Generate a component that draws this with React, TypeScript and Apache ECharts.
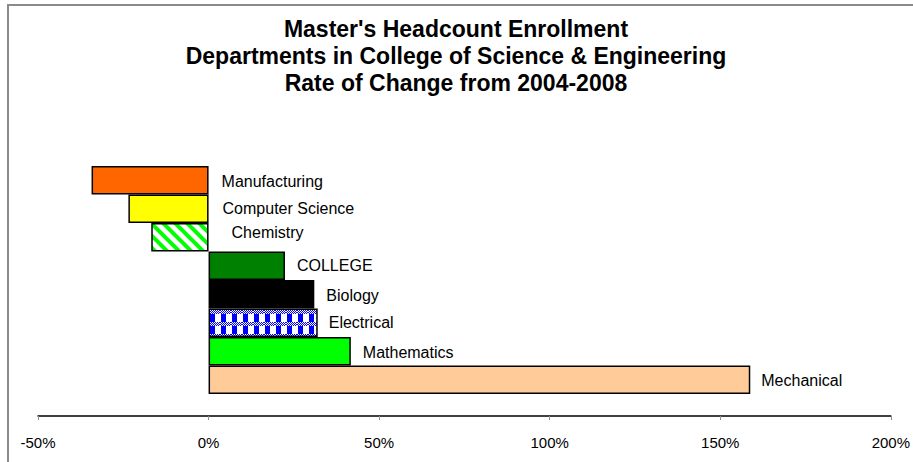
import React, { useEffect, useRef } from 'react';
import * as echarts from 'echarts';

const departments = [
  'Manufacturing',
  'Computer Science',
  'Chemistry',
  'COLLEGE',
  'Biology',
  'Electrical',
  'Mathematics',
  'Mechanical',
];
const rateOfChange = [-34.3, -23.5, -16.8, 22.4, 31.0, 32.0, 41.7, 158.8];
const axisMin = -50;
const axisMax = 200;
const axisStep = 50;
const titleLines = [
  "Master's Headcount Enrollment",
  'Departments in College of Science & Engineering',
  'Rate of Change from 2004-2008',
];

const FONT = '"Liberation Sans", Arial, Helvetica, sans-serif';

function stripePattern() {
  const s = 12;
  const c = document.createElement('canvas');
  c.width = s;
  c.height = s;
  const g = c.getContext('2d')!;
  g.fillStyle = '#ffffff';
  g.fillRect(0, 0, s, s);
  g.strokeStyle = '#00ff00';
  g.lineWidth = 4;
  for (const k of [-1, 0, 1]) {
    g.beginPath();
    g.moveTo(-s, -s + k * s);
    g.lineTo(2 * s, 2 * s + k * s);
    g.stroke();
  }
  return { image: c, repeat: 'repeat', imageWidth: s, imageHeight: s };
}

function checkerPattern() {
  const w = 11;
  const h = 12;
  const c = document.createElement('canvas');
  c.width = w;
  c.height = h;
  const g = c.getContext('2d')!;
  g.fillStyle = '#ffffff';
  g.fillRect(0, 0, w, h);
  g.fillStyle = '#0000ff';
  const dottedRows = [10, 11, 0, 1];
  for (let y = 0; y < h; y++) {
    for (let x = 0; x < w; x++) {
      if (dottedRows.includes(y)) {
        if ((x + y) % 2 === 0) g.fillRect(x, y, 1, 1);
      } else if (x >= 1 && x <= 5) {
        g.fillRect(x, y, 1, 1);
      }
    }
  }
  return { image: c, repeat: 'repeat', imageWidth: w, imageHeight: h };
}

export default function App() {
  const ref = useRef<HTMLDivElement>(null);

  useEffect(() => {
    if (!ref.current) return;
    const chart = echarts.init(ref.current, null, { renderer: 'svg' });

    const fills: any[] = [
      '#ff6600',
      '#ffff00',
      stripePattern(),
      '#008000',
      '#000000',
      checkerPattern(),
      '#00ff00',
      '#ffcc99',
    ];
    // label placement tweaks (style only)
    const labelTweaks: any[] = [
      { distance: 13, offset: [0, 1] },
      { distance: 14, offset: [0, 0] },
      { distance: 23, offset: [0, -5] },
      { distance: 12, offset: [0, 0] },
      { distance: 12, offset: [0, 1] },
      { distance: 11, offset: [0, 0] },
      { distance: 12, offset: [0, 1] },
      { distance: 11, offset: [0, 1] },
    ];

    chart.setOption({
      animation: false,
      backgroundColor: '#ffffff',
      title: {
        text: titleLines.join('\n'),
        left: 456,
        top: 15,
        padding: 0,
        textAlign: 'center',
        textStyle: {
          fontFamily: FONT,
          fontWeight: 'bold',
          fontSize: 23,
          lineHeight: 27,
          color: '#000000',
          align: 'center',
        },
      },
      graphic: [
        {
          type: 'line',
          shape: { x1: 7, y1: 5, x2: 913, y2: 5 },
          style: { stroke: '#8a8a8a', lineWidth: 2 },
        },
        {
          type: 'line',
          shape: { x1: 8, y1: 4, x2: 8, y2: 462 },
          style: { stroke: '#8a8a8a', lineWidth: 2 },
        },
      ],
      grid: { left: 38, right: 19, top: 166, bottom: 68, containLabel: false },
      xAxis: {
        type: 'value',
        min: axisMin,
        max: axisMax,
        interval: axisStep,
        offset: 22,
        axisLine: { show: true, lineStyle: { color: '#000000', width: 1.5 } },
        axisTick: { show: true, length: 4, lineStyle: { color: '#909090', width: 1 } },
        axisLabel: {
          formatter: '{value}%',
          fontFamily: FONT,
          fontSize: 15,
          color: '#000000',
          margin: 19,
        },
        splitLine: { show: false },
      },
      yAxis: {
        type: 'category',
        data: departments,
        inverse: true,
        show: false,
      },
      series: [
        {
          type: 'bar',
          barWidth: '100%',
          itemStyle: { borderColor: '#000000', borderWidth: 1.5 },
          label: {
            show: true,
            position: 'right',
            formatter: '{b}',
            color: '#000000',
            fontFamily: FONT,
            fontSize: 16,
          },
          data: rateOfChange.map((v, i) => ({
            value: v,
            itemStyle: { color: fills[i] },
            label: labelTweaks[i],
          })),
        },
      ],
    });

    return () => chart.dispose();
  }, []);

  return (
    <div
      ref={ref}
      style={{ position: 'fixed', left: 0, top: 0, width: 913, height: 462, background: '#fff' }}
    />
  );
}
